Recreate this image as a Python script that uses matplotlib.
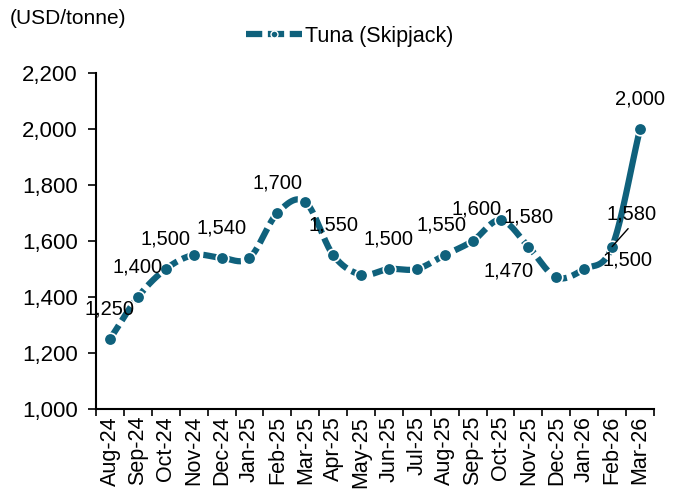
import matplotlib
matplotlib.use("Agg")
import matplotlib.pyplot as plt
from matplotlib.lines import Line2D
import numpy as np

plt.rcParams.update({
    "font.family": ["Liberation Sans", "DejaVu Sans"],
    "font.size": 15,
})

# ── Data ────────────────────────────────────────────────────────────────────
months = ["Aug-24", "Sep-24", "Oct-24", "Nov-24", "Dec-24", "Jan-25", "Feb-25",
          "Mar-25", "Apr-25", "May-25", "Jun-25", "Jul-25", "Aug-25", "Sep-25",
          "Oct-25", "Nov-25", "Dec-25", "Jan-26", "Feb-26", "Mar-26"]
price = [1250, 1400, 1500, 1550, 1540, 1540, 1700, 1740, 1550, 1480,
         1500, 1500, 1550, 1600, 1675, 1580, 1470, 1500, 1580, 2000]
labelled = [0, 1, 2, 4, 6, 8, 10, 12, 13, 15, 16, 17, 18, 19]
series_name = "Tuna (Skipjack)"
unit = "(USD/tonne)"

COLOR = "#0f617c"


def smooth(x, y, n=30):
    """Catmull-Rom style smoothing, like Excel's smoothed line."""
    x = np.asarray(x, float)
    y = np.asarray(y, float)
    px = np.concatenate([[2 * x[0] - x[1]], x, [2 * x[-1] - x[-2]]])
    py = np.concatenate([[2 * y[0] - y[1]], y, [2 * y[-1] - y[-2]]])
    xs, ys = [], []
    t = np.linspace(0, 1, n)
    for i in range(1, len(px) - 2):
        b = lambda a0, a1, a2, a3: 0.5 * ((2 * a1) + (-a0 + a2) * t
                                          + (2 * a0 - 5 * a1 + 4 * a2 - a3) * t ** 2
                                          + (-a0 + 3 * a1 - 3 * a2 + a3) * t ** 3)
        xs.append(b(*px[i - 1:i + 3]))
        ys.append(b(*py[i - 1:i + 3]))
    return xs, ys


fig = plt.figure(figsize=(6.83, 4.95), dpi=100)
ax = fig.add_axes([0.1406, 0.1737, 0.8169, 0.6788])

x = np.arange(len(months))
segx, segy = smooth(x, price)
ax.plot(np.concatenate(segx[:-1]), np.concatenate(segy[:-1]), color=COLOR,
        lw=4.5, dashes=(2.6, 0.9), solid_capstyle="butt", zorder=2)
# last month is drawn solid in the original
ax.plot(segx[-1], segy[-1], color=COLOR, lw=4.5, solid_capstyle="round", zorder=2)
ax.plot(x, price, "o", color=COLOR, ms=9, mec="white", mew=1.2, zorder=3)

# label offsets in pixels (dx, dy)
offsets = {12: (-3, 30), 13: (4, 32), 16: (-48, 6), 17: (43, 9), 18: (19, 33)}
for i in labelled:
    dx, dy = offsets.get(i, (0, 30))
    ax.annotate(f"{price[i]:,}", (x[i], price[i]), xytext=(dx, dy),
                textcoords="offset pixels", ha="center", va="center",
                fontsize=14.5, zorder=4)
# leader line for the Feb-26 label
ax.annotate("", (x[18], price[18]), xytext=(16, 18), textcoords="offset pixels",
            arrowprops=dict(arrowstyle="-", color="black", lw=1,
                            shrinkA=0, shrinkB=0))

ax.set_xlim(-0.5, len(months) - 0.5)
ax.set_ylim(1000, 2200)
ax.set_yticks(np.arange(1000, 2201, 200))
ax.yaxis.set_major_formatter(matplotlib.ticker.FuncFormatter(lambda v, p: f"{int(v):,}"))
ax.set_xticks(x)
ax.set_xticklabels(months, rotation=90, fontsize=15.5)
ax.set_xticks(np.arange(-0.5, len(months)), minor=True)
ax.tick_params(axis="x", which="major", length=0, pad=5)
ax.tick_params(axis="x", which="minor", length=5, width=1.2, direction="out")
ax.tick_params(axis="y", length=6, width=1.2, labelsize=16, pad=7)
for s in ["top", "right"]:
    ax.spines[s].set_visible(False)
for s in ["left", "bottom"]:
    ax.spines[s].set_linewidth(1.5)

fig.text(0.015, 0.962, unit, fontsize=15, va="center", ha="left")
handle = Line2D([], [], color=COLOR, lw=4.5, dashes=(2.6, 0.9), marker="o", ms=5,
                mec="white", mew=1)
fig.legend([handle], [series_name], loc="center", bbox_to_anchor=(0.512, 0.927),
           frameon=False, fontsize=15.5, handlelength=2.6, handletextpad=0.15)

fig.savefig("out.png", dpi=100)
